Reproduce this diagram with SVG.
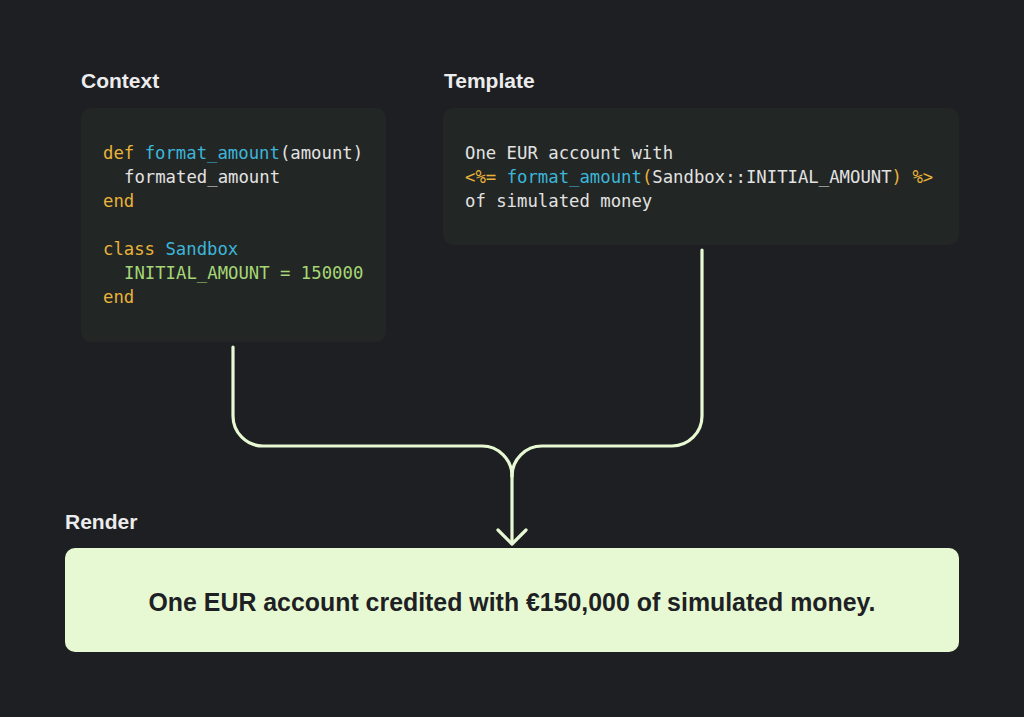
<svg xmlns="http://www.w3.org/2000/svg" width="1024" height="717" viewBox="0 0 1024 717">
<style>
.lbl{font-family:"Liberation Sans",Arial,sans-serif;font-weight:bold;font-size:21px;fill:#ececec}
.code{font-family:"DejaVu Sans Mono","Liberation Mono",monospace;font-size:17.3px;fill:#e2e2e2}
.kw{fill:#e9b23a}
.fn{fill:#3db5d8}
.gr{fill:#a6d676}
.box{fill:#222625}
.conn{fill:none;stroke:#e7f8d2;stroke-width:3.2;stroke-linecap:round;stroke-linejoin:round}
.out{font-family:"Liberation Sans",Arial,sans-serif;font-weight:bold;font-size:25px;fill:#1e2124}
</style>
<rect width="1024" height="717" fill="#1d1f23"/>
<g id="context">
<text class="lbl" x="81" y="88">Context</text>
<rect class="box" x="81" y="108" width="305" height="234" rx="10"/>
<text class="code" x="103" y="159"><tspan class="kw">def</tspan> <tspan class="fn">format_amount</tspan>(amount)</text>
<text class="code" x="124" y="183">formated_amount</text>
<text class="code kw" x="103" y="207">end</text>
<text class="code" x="103" y="255"><tspan class="kw">class</tspan> <tspan class="fn">Sandbox</tspan></text>
<text class="code gr" x="124" y="279">INITIAL_AMOUNT = 150000</text>
<text class="code kw" x="103" y="303">end</text>
</g>
<g id="template">
<text class="lbl" x="444" y="88">Template</text>
<rect class="box" x="443" y="108" width="516" height="137" rx="10"/>
<text class="code" x="465" y="159">One EUR account with</text>
<text class="code" x="465" y="183"><tspan class="kw">&lt;%=</tspan> <tspan class="fn">format_amount</tspan><tspan class="kw">(</tspan>Sandbox::INITIAL_AMOUNT<tspan class="kw">)</tspan> <tspan class="kw">%&gt;</tspan></text>
<text class="code" x="465" y="207">of simulated money</text>
</g>
<g id="connectors">
<path class="conn" d="M233,347 V416 A30,30 0 0 0 263,446 H482 A30,30 0 0 1 512,476"/>
<path class="conn" d="M702,250 V416 A30,30 0 0 1 672,446 H542 A30,30 0 0 0 512,476"/>
<path class="conn" d="M512,476 V543"/>
<path class="conn" d="M498,530 L512,544 L526,530"/>
</g>
<g id="render">
<text class="lbl" x="65" y="529">Render</text>
<rect x="65" y="548" width="894" height="104" rx="10" fill="#e7f9d3"/>
<text class="out" x="512" y="611" text-anchor="middle" textLength="727" lengthAdjust="spacingAndGlyphs">One EUR account credited with €150,000 of simulated money.</text>
</g>
</svg>
